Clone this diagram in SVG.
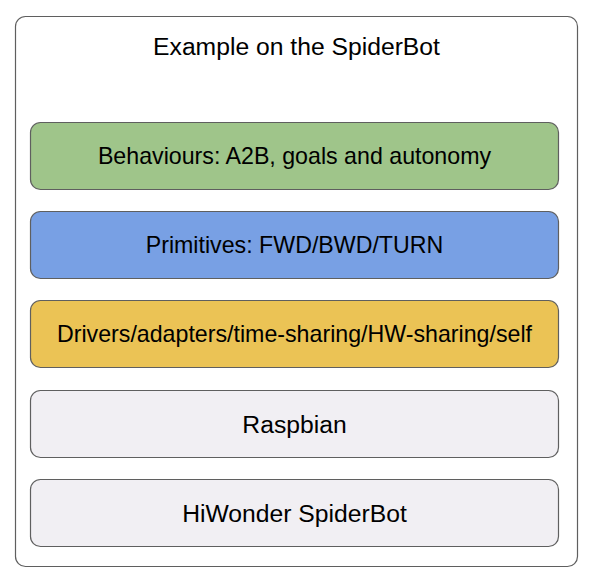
<svg xmlns="http://www.w3.org/2000/svg" width="598" height="577" viewBox="0 0 598 577">
<style>
.box{stroke:#5f5f5f;stroke-width:1.2}
.t{font-family:"Liberation Sans",Arial,sans-serif;font-size:23.2px;fill:#000;text-anchor:middle}
.big{font-size:24.7px}
</style>
<rect width="598" height="577" fill="#fff"/>
<g id="frame">
<rect x="15.5" y="16.5" width="562" height="550" rx="10" fill="#fff" stroke="#5f5f5f" stroke-width="1.2"/>
<text class="t big" x="296.5" y="55">Example on the SpiderBot</text>
</g>
<g id="behaviours">
<rect class="box" x="30.5" y="122.5" width="528" height="67" rx="10" fill="#9fc58a"/>
<text class="t" x="294.5" y="164">Behaviours: A2B, goals and autonomy</text>
</g>
<g id="primitives">
<rect class="box" x="30.5" y="211.5" width="528" height="67" rx="10" fill="#78a0e4"/>
<text class="t" x="294.5" y="253">Primitives: FWD/BWD/TURN</text>
</g>
<g id="drivers">
<rect class="box" x="30.5" y="300.5" width="528" height="67" rx="10" fill="#ebc355"/>
<text class="t" x="294.5" y="342">Drivers/adapters/time-sharing/HW-sharing/self</text>
</g>
<g id="raspbian">
<rect class="box" x="30.5" y="390.5" width="528" height="67" rx="10" fill="#f1eff3"/>
<text class="t big" x="294.5" y="433">Raspbian</text>
</g>
<g id="spiderbot">
<rect class="box" x="30.5" y="479.5" width="528" height="67" rx="10" fill="#f1eff3"/>
<text class="t big" x="294.5" y="522">HiWonder SpiderBot</text>
</g>
<g id="connectors"></g>
</svg>
